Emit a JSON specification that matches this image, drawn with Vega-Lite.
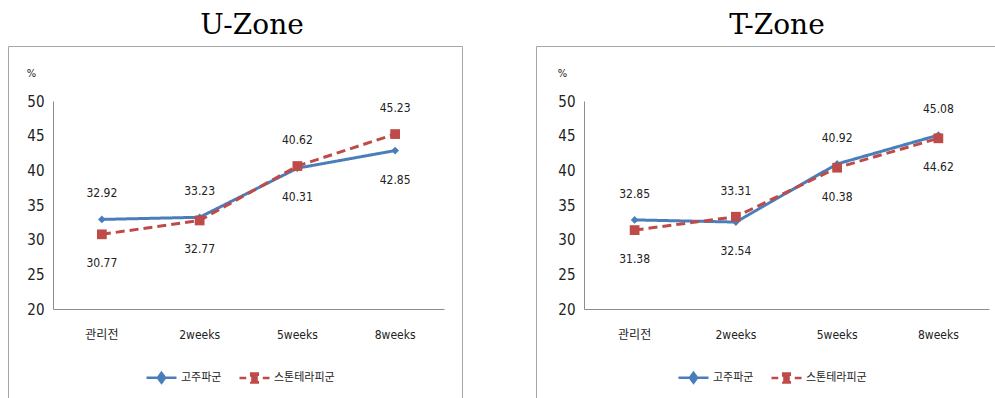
{
  "$schema": "https://vega.github.io/schema/vega-lite/v6.json",
  "background": "white",
  "autosize": {"type": "pad"},
  "padding": {"left": 7, "top": 11, "right": 0, "bottom": 0},
  "config": {
    "view": {"stroke": "#a6a6a6", "strokeWidth": 1},
    "font": "Liberation Sans Narrow, DejaVu Sans Condensed, Noto Sans CJK KR",
    "concat": {"spacing": 72},
    "title": {"font": "DejaVu Serif", "fontSize": 28, "fontWeight": "normal", "color": "#000000", "offset": 6},
    "axis": {"domainColor": "#8c8c8c", "ticks": false, "grid": false, "labelColor": "#222222", "labelFont": "Liberation Sans Narrow, DejaVu Sans Condensed, Noto Sans CJK KR"},
    "legend": {
      "orient": "none", "direction": "horizontal", "title": null,
      "symbolSize": 900, "symbolStrokeWidth": 2.5, "symbolDash": [1, 0], "symbolOpacity": 1,
      "symbolType": {"expr": "datum.value === '고주파군' ? 'M-1,0H1M0,-0.33L0.24,0L0,0.33L-0.24,0Z' : 'M-1,0H-0.55M0.55,0H1M-0.22,-0.3H0.22V0.3H-0.22Z'"},
      "labelFont": "Noto Sans CJK KR", "labelFontSize": 11, "labelColor": "#222222",
      "labelOffset": 3, "columnPadding": 12
    }
  },
  "data": {
    "values": [
      {"zone": "U-Zone", "group": "고주파군", "time": "관리전", "value": 32.92},
      {"zone": "U-Zone", "group": "고주파군", "time": "2weeks", "value": 33.23},
      {"zone": "U-Zone", "group": "고주파군", "time": "5weeks", "value": 40.31},
      {"zone": "U-Zone", "group": "고주파군", "time": "8weeks", "value": 42.85},
      {"zone": "U-Zone", "group": "스톤테라피군", "time": "관리전", "value": 30.77},
      {"zone": "U-Zone", "group": "스톤테라피군", "time": "2weeks", "value": 32.77},
      {"zone": "U-Zone", "group": "스톤테라피군", "time": "5weeks", "value": 40.62},
      {"zone": "U-Zone", "group": "스톤테라피군", "time": "8weeks", "value": 45.23},
      {"zone": "T-Zone", "group": "고주파군", "time": "관리전", "value": 32.85},
      {"zone": "T-Zone", "group": "고주파군", "time": "2weeks", "value": 32.54},
      {"zone": "T-Zone", "group": "고주파군", "time": "5weeks", "value": 40.92},
      {"zone": "T-Zone", "group": "고주파군", "time": "8weeks", "value": 45.08},
      {"zone": "T-Zone", "group": "스톤테라피군", "time": "관리전", "value": 31.38},
      {"zone": "T-Zone", "group": "스톤테라피군", "time": "2weeks", "value": 33.31},
      {"zone": "T-Zone", "group": "스톤테라피군", "time": "5weeks", "value": 40.38},
      {"zone": "T-Zone", "group": "스톤테라피군", "time": "8weeks", "value": 44.62}
    ]
  },
  "resolve": {
    "scale": {"x": "independent", "y": "independent", "color": "independent", "strokeDash": "independent"},
    "axis": {"x": "independent", "y": "independent"},
    "legend": {"color": "independent"}
  },
  "hconcat": [
    {
      "width": 454,
      "height": 353,
      "title": {"text": "U-Zone", "dx": 17},
      "transform": [
        {"filter": "datum.zone === 'U-Zone'"},
        {"joinaggregate": [{"op": "max", "field": "value", "as": "maxv"}], "groupby": ["time"]}
      ],
      "encoding": {
        "x": {
          "field": "time", "type": "nominal", "sort": ["관리전", "2weeks", "5weeks", "8weeks"], "bandPosition": 0.5,
          "scale": {"type": "band", "range": [45, 436], "paddingInner": 0, "paddingOuter": 0},
          "axis": {"title": null, "offset": -90, "labelAngle": 0, "labelPadding": 20, "labelFontSize": 12}
        },
        "y": {
          "field": "value", "type": "quantitative",
          "scale": {"domain": [20, 50], "range": [263, 55], "nice": false, "zero": false},
          "axis": {"values": [20, 25, 30, 35, 40, 45, 50], "offset": -45, "labelPadding": 9, "labelFontSize": 15,
            "title": "%", "titleAngle": 0, "titleX": -22, "titleY": 27, "titleBaseline": "middle", "titleAlign": "center",
            "titleFontSize": 11, "titleFontWeight": "normal", "titleColor": "#222222"}
        },
        "color": {
          "field": "group", "type": "nominal",
          "scale": {"domain": ["고주파군", "스톤테라피군"], "range": ["#4a7ebb", "#be4b48"]},
          "legend": {"legendX": 137, "legendY": 315}
        }
      },
      "layer": [
        {
          "mark": {"type": "line", "strokeWidth": 3},
          "encoding": {
            "strokeDash": {"field": "group", "type": "nominal", "scale": {"domain": ["고주파군", "스톤테라피군"], "range": [[1, 0], [9, 5]]}, "legend": null}
          }
        },
        {
          "transform": [{"filter": "datum.group === '고주파군'"}],
          "mark": {"type": "point", "filled": true, "opacity": 1, "shape": "diamond", "size": 60}
        },
        {
          "transform": [{"filter": "datum.group === '스톤테라피군'"}],
          "mark": {"type": "point", "filled": true, "opacity": 1, "shape": "square", "size": 95}
        },
        {
          "transform": [{"filter": "datum.value === datum.maxv"}],
          "mark": {"type": "text", "dy": -26, "baseline": "middle", "fontSize": 12},
          "encoding": {"text": {"field": "value", "type": "quantitative", "format": ".2f"}, "color": {"value": "#222222"}}
        },
        {
          "transform": [{"filter": "datum.value < datum.maxv"}],
          "mark": {"type": "text", "dy": 29, "baseline": "middle", "fontSize": 12},
          "encoding": {"text": {"field": "value", "type": "quantitative", "format": ".2f"}, "color": {"value": "#222222"}}
        }
      ]
    },
    {
      "width": 460,
      "height": 353,
      "title": {"text": "T-Zone", "dx": 11},
      "transform": [
        {"filter": "datum.zone === 'T-Zone'"},
        {"joinaggregate": [{"op": "max", "field": "value", "as": "maxv"}], "groupby": ["time"]}
      ],
      "encoding": {
        "x": {
          "field": "time", "type": "nominal", "sort": ["관리전", "2weeks", "5weeks", "8weeks"], "bandPosition": 0.5,
          "scale": {"type": "band", "range": [48, 453], "paddingInner": 0, "paddingOuter": 0},
          "axis": {"title": null, "offset": -90, "labelAngle": 0, "labelPadding": 20, "labelFontSize": 12}
        },
        "y": {
          "field": "value", "type": "quantitative",
          "scale": {"domain": [20, 50], "range": [263, 55], "nice": false, "zero": false},
          "axis": {"values": [20, 25, 30, 35, 40, 45, 50], "offset": -48, "labelPadding": 9, "labelFontSize": 15,
            "title": "%", "titleAngle": 0, "titleX": -22, "titleY": 27, "titleBaseline": "middle", "titleAlign": "center",
            "titleFontSize": 11, "titleFontWeight": "normal", "titleColor": "#222222"}
        },
        "color": {
          "field": "group", "type": "nominal",
          "scale": {"domain": ["고주파군", "스톤테라피군"], "range": ["#4a7ebb", "#be4b48"]},
          "legend": {"legendX": 141, "legendY": 315}
        }
      },
      "layer": [
        {
          "mark": {"type": "line", "strokeWidth": 3},
          "encoding": {
            "strokeDash": {"field": "group", "type": "nominal", "scale": {"domain": ["고주파군", "스톤테라피군"], "range": [[1, 0], [9, 5]]}, "legend": null}
          }
        },
        {
          "transform": [{"filter": "datum.group === '고주파군'"}],
          "mark": {"type": "point", "filled": true, "opacity": 1, "shape": "diamond", "size": 60}
        },
        {
          "transform": [{"filter": "datum.group === '스톤테라피군'"}],
          "mark": {"type": "point", "filled": true, "opacity": 1, "shape": "square", "size": 95}
        },
        {
          "transform": [{"filter": "datum.value === datum.maxv"}],
          "mark": {"type": "text", "dy": -26, "baseline": "middle", "fontSize": 12},
          "encoding": {"text": {"field": "value", "type": "quantitative", "format": ".2f"}, "color": {"value": "#222222"}}
        },
        {
          "transform": [{"filter": "datum.value < datum.maxv"}],
          "mark": {"type": "text", "dy": 29, "baseline": "middle", "fontSize": 12},
          "encoding": {"text": {"field": "value", "type": "quantitative", "format": ".2f"}, "color": {"value": "#222222"}}
        }
      ]
    }
  ]
}
